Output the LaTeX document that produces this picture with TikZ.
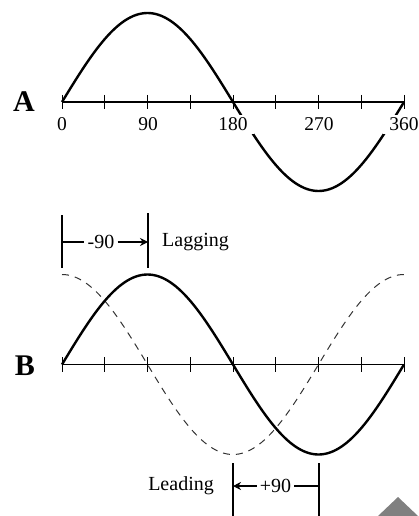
\documentclass[tikz,border=0pt]{standalone}
\usepackage{fontspec}
\setmainfont{Liberation Serif}
\usetikzlibrary{arrows.meta}
\begin{document}
\begin{tikzpicture}[x=1pt,y=-1pt,
  wave/.style={line width=2.4pt, line join=round},
  dwave/.style={line width=1pt, black!80, dash pattern=on 7pt off 6pt},
  axisline/.style={line width=1.2pt},
  tickline/.style={line width=1pt},
  lbl/.style={font=\fontsize{19.5}{22}\selectfont, fill=white, inner xsep=6pt, inner ysep=3pt},
  txt/.style={font=\fontsize{20}{24}\selectfont, inner sep=0pt},
  big/.style={font=\fontsize{30}{34}\selectfont\bfseries, inner sep=0pt},
  meas/.style={line width=1.1pt},
  arr/.style={meas, -{Stealth[length=8pt,width=8pt]}}
]
\useasboundingbox (0,0) rectangle (418,516);
% ---------- A ----------
\draw[axisline] (62,102) -- (404,102);
\foreach \i in {0,...,8} \draw[tickline] ({62+\i*42.75},95) -- ({62+\i*42.75},109);
\draw[wave] plot[domain=0:360, samples=121, smooth] ({62+\x*0.95}, {102-89*sin(\x)});
\node[big] (A) at (24,102) {A};
\node[lbl] (a0) at (62,124.5) {0};
\node[lbl] (a90) at (148,124.5) {90};
\node[lbl] (a180) at (233,124.5) {180};
\node[lbl] (a270) at (319,124.5) {270};
\node[lbl] (a360) at (404,124.5) {360};
% ---------- B ----------
\draw[axisline] (62,364.5) -- (404,364.5);
\foreach \i in {0,...,8} \draw[tickline] ({62+\i*42.75},357) -- ({62+\i*42.75},372);
\draw[dwave] plot[domain=0:360, samples=121, smooth] ({62+\x*0.95}, {364.5-90*cos(\x)});
\draw[wave] plot[domain=0:360, samples=121, smooth] ({62+\x*0.95}, {364.5-90*sin(\x)});
\node[big] (B) at (25,366) {B};
% ---------- lagging measure ----------
\coordinate (l1t) at (62,215);
\coordinate (l1b) at (62,268);
\coordinate (l2t) at (148,213);
\coordinate (l2b) at (148,268);
\coordinate (l1m) at (62,242);
\coordinate (l2m) at (148,242);
\draw[meas] (l1t) -- (l1b);
\draw[meas] (l2t) -- (l2b);
\node[txt] (m1) at (101,242) {-90};
\draw[meas] (l1m) -- ([xshift=-3pt]m1.west);
\draw[arr] ([xshift=3pt]m1.east) -- (l2m);
\node[txt, anchor=west] (lag) at (162,242) {Lagging};
% ---------- leading measure ----------
\coordinate (r1t) at (233,463);
\coordinate (r1b) at (233,516);
\coordinate (r2t) at (319,463);
\coordinate (r2b) at (319,516);
\coordinate (r1m) at (233,486);
\coordinate (r2m) at (319,486);
\draw[meas] (r1t) -- (r1b);
\draw[meas] (r2t) -- (r2b);
\node[txt] (m2) at (275.5,486) {+90};
\draw[arr] ([xshift=-3pt]m2.west) -- (r1m);
\draw[meas] ([xshift=3pt]m2.east) -- (r2m);
\node[txt, anchor=east] (lead) at (214,486) {Leading};
% ---------- corner triangle ----------
\fill[gray] (378,516) -- (398,497) -- (418,516) -- cycle;
\end{tikzpicture}
\end{document}
